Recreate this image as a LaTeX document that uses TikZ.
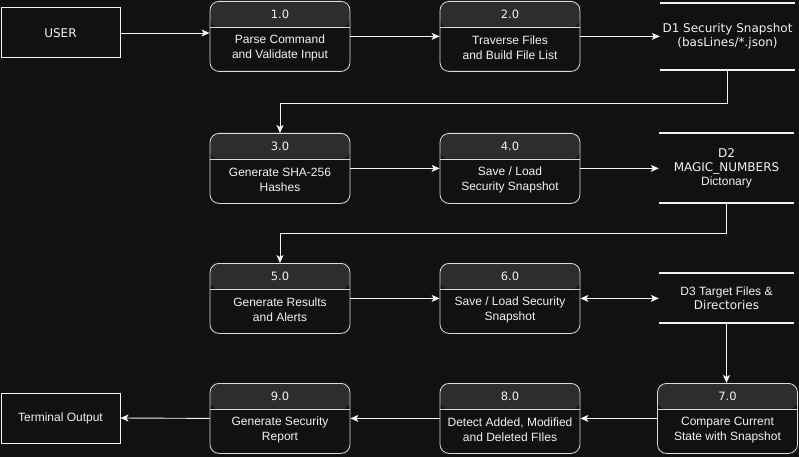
\documentclass[tikz,border=0pt]{standalone}
\usepackage{fontspec}
\setmainfont{Liberation Sans}
\newfontfamily\dejavu{DejaVu Sans}
\usetikzlibrary{arrows.meta}

\definecolor{bg}{HTML}{111111}
\definecolor{hdr}{HTML}{2D2D2D}
\definecolor{edge}{HTML}{DADADA}
\definecolor{ink}{HTML}{F2F2F2}

\begin{document}
\begin{tikzpicture}[x=1pt, y=-1pt, >={Stealth[length=8pt, width=7pt, inset=2pt]},
  every node/.style={text=ink, inner sep=0pt},
  proc/.style={draw=edge, line width=0.8pt, fill=bg, rounded corners=9pt, minimum width=140pt, minimum height=70pt, anchor=north,
    path picture={
      \fill[hdr] (path picture bounding box.north west) rectangle ([yshift=-26pt]path picture bounding box.north east);
      \draw[edge, line width=0.8pt] ([yshift=-26pt]path picture bounding box.north west) -- ([yshift=-26pt]path picture bounding box.north east);
    }},
  procnum/.style={font=\dejavu\fontsize{11.5}{14}\selectfont},
  proctext/.style={align=center, font=\fontsize{12}{15}\selectfont},
  store/.style={align=center, minimum width=135pt, font=\dejavu\fontsize{12}{14}\selectfont},
  storeline/.style={ink, line width=1.6pt},
  ext/.style={draw=ink, line width=1pt, minimum width=119pt, minimum height=50pt, font=\fontsize{12}{14}\selectfont},
  flow/.style={->, ink, line width=0.9pt}]
	\useasboundingbox (0,0) rectangle (799,457);
	\fill[bg] (0,0) rectangle (799,457);

	\node[ext, font=\dejavu\fontsize{12}{14}\selectfont] (user) at (60.5,33) {USER};
	\node[ext] (term) at (60.5,418) {Terminal Output};

	\node[proc] (p1) at (280,1) {};
	\node[procnum] (p1num) at ([yshift=-13pt]p1.north) {1.0};
	\node[proctext] (p1txt) at ([yshift=-47pt]p1.north) {Parse Command\\and Validate Input};
	\node[proc] (p2) at (510,1) {};
	\node[procnum] (p2num) at ([yshift=-13pt]p2.north) {2.0};
	\node[proctext] (p2txt) at ([yshift=-47pt]p2.north) {Traverse Files\\and Build File List};
	\node[proc] (p3) at (280,133) {};
	\node[procnum] (p3num) at ([yshift=-13pt]p3.north) {3.0};
	\node[proctext] (p3txt) at ([yshift=-47pt]p3.north) {Generate SHA-256\\Hashes};
	\node[proc] (p4) at (510,133) {};
	\node[procnum] (p4num) at ([yshift=-13pt]p4.north) {4.0};
	\node[proctext] (p4txt) at ([yshift=-47pt]p4.north) {Save / Load\\Security Snapshot};
	\node[proc] (p5) at (280,263) {};
	\node[procnum] (p5num) at ([yshift=-13pt]p5.north) {5.0};
	\node[proctext] (p5txt) at ([yshift=-47pt]p5.north) {Generate Results\\and Alerts};
	\node[proc] (p6) at (510,263) {};
	\node[procnum] (p6num) at ([yshift=-13pt]p6.north) {6.0};
	\node[proctext] (p6txt) at ([yshift=-47pt]p6.north) {Save / Load Security\\Snapshot};
	\node[proc] (p7) at (727.5,383) {};
	\node[procnum] (p7num) at ([yshift=-13pt]p7.north) {7.0};
	\node[proctext] (p7txt) at ([yshift=-47pt]p7.north) {Compare Current\\State with Snapshot};
	\node[proc] (p8) at (510,383) {};
	\node[procnum] (p8num) at ([yshift=-13pt]p8.north) {8.0};
	\node[proctext] (p8txt) at ([yshift=-47pt]p8.north) {Detect Added, Modified\\and Deleted FIles};
	\node[proc] (p9) at (280,383) {};
	\node[procnum] (p9num) at ([yshift=-13pt]p9.north) {9.0};
	\node[proctext] (p9txt) at ([yshift=-47pt]p9.north) {Generate Security\\Report};

	\node[store, minimum height=67pt] (d1) at (727.5,36.5) {D1 Security Snapshot\\(basLines/*.json)};
	\node[store, minimum height=70pt] (d2) at (726.5,168) {D2\\MAGIC\_NUMBERS\\{\rmfamily Dictonary}};
	\node[store, minimum height=50pt] (d3) at (726.5,298) {{\rmfamily D3 Target Files \&}\\Directories};
	\draw[storeline] (d1.north west) -- (d1.north east) (d1.south west) -- (d1.south east);
	\draw[storeline] (d2.north west) -- (d2.north east) (d2.south west) -- (d2.south east);
	\draw[storeline] (d3.north west) -- (d3.north east) (d3.south west) -- (d3.south east);

	\draw[flow] (user.east) -- (user.east -| p1.west);
	\draw[flow] (p1.east) -- (p2.west);
	\draw[flow] (p2.east) -- (p2.east -| d1.west);
	\draw[flow] (d1.south) -- ++(0,33) -| (p3.north);
	\draw[flow] (p3.east) -- (p4.west);
	\draw[flow] (p4.east) -- (p4.east -| d2.west);
	\draw[flow] (d2.south) -- ++(0,30) -| (p5.north);
	\draw[flow] (p5.east) -- (p6.west);
	\draw[flow, <->] (p6.east) -- (p6.east -| d3.west);
	\draw[flow] (d3.south) -- (d3.south |- p7.north);
	\draw[flow] (p7.west) -- (p8.east);
	\draw[flow] (p8.west) -- (p9.east);
	\draw[flow] (p9.west) -- (term.east);
\end{tikzpicture}
\end{document}
